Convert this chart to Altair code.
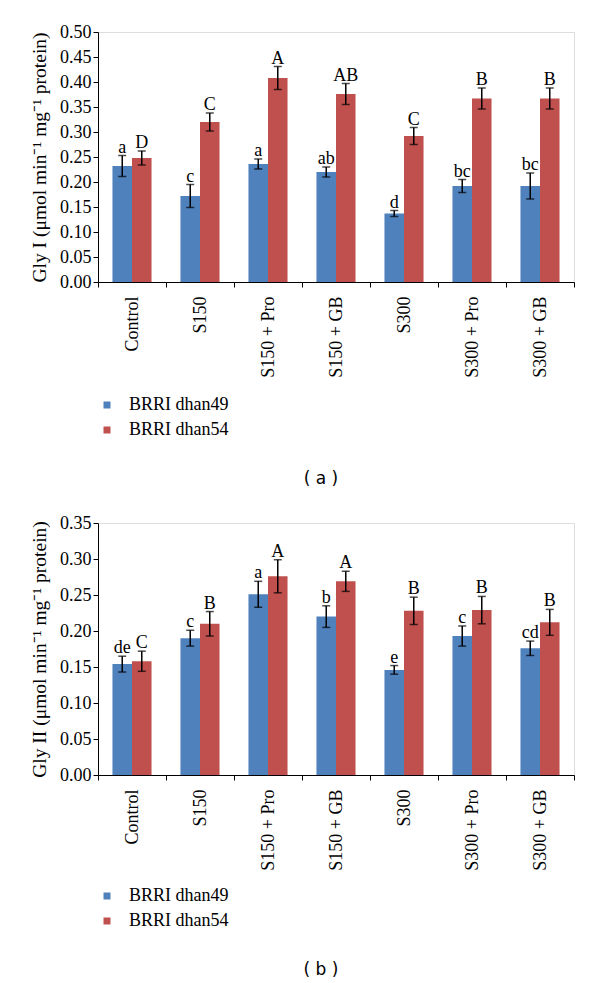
import altair as alt
import pandas as pd

categories = ["Control", "S150", "S150 + Pro", "S150 + GB", "S300", "S300 + Pro", "S300 + GB"]
series = ["BRRI dhan49", "BRRI dhan54"]
colors = ["#4F81BD", "#C0504D"]

# Panel (a) Gly I
gly1_49 = [0.232, 0.172, 0.236, 0.220, 0.137, 0.192, 0.192]
gly1_49_err = [0.021, 0.023, 0.010, 0.010, 0.006, 0.013, 0.026]
gly1_49_lbl = ["a", "c", "a", "ab", "d", "bc", "bc"]
gly1_54 = [0.248, 0.320, 0.408, 0.376, 0.292, 0.367, 0.367]
gly1_54_err = [0.014, 0.018, 0.023, 0.021, 0.017, 0.021, 0.021]
gly1_54_lbl = ["D", "C", "A", "AB", "C", "B", "B"]

# Panel (b) Gly II
gly2_49 = [0.154, 0.190, 0.251, 0.220, 0.146, 0.193, 0.176]
gly2_49_err = [0.011, 0.011, 0.018, 0.015, 0.006, 0.014, 0.010]
gly2_49_lbl = ["de", "c", "a", "b", "e", "c", "cd"]
gly2_54 = [0.158, 0.210, 0.276, 0.269, 0.228, 0.229, 0.212]
gly2_54_err = [0.014, 0.017, 0.023, 0.014, 0.019, 0.019, 0.018]
gly2_54_lbl = ["C", "B", "A", "A", "B", "B", "B"]

y_ticks_a = [0.00, 0.05, 0.10, 0.15, 0.20, 0.25, 0.30, 0.35, 0.40, 0.45, 0.50]
y_ticks_b = [0.00, 0.05, 0.10, 0.15, 0.20, 0.25, 0.30, 0.35]

FONT = "Liberation Serif"


def make_df(v1, e1, l1, v2, e2, l2):
    rows = []
    for s, vals, errs, lbls in [(series[0], v1, e1, l1), (series[1], v2, e2, l2)]:
        for c, v, e, l in zip(categories, vals, errs, lbls):
            rows.append({"cat": c, "series": s, "value": v, "lo": v - e, "hi": v + e, "label": l})
    return pd.DataFrame(rows)


def panel(df, ytitle, ticks, caption, height):
    ymax = ticks[-1]
    x = alt.X("cat:N", sort=categories,
              scale=alt.Scale(paddingInner=0, paddingOuter=0),
              axis=alt.Axis(title=None, labelAngle=-90, tickBand="extent", labelFont=FONT,
                            labelFontSize=18, labelColor="black", labelPadding=9, tickSize=5,
                            tickColor="black", domainColor="black", labelBaseline="middle",
                            labelAlign="right"))
    xo = alt.XOffset("series:N", sort=series, scale=alt.Scale(paddingOuter=0.74, paddingInner=0))
    yscale = alt.Scale(domain=[0, ymax], nice=False, zero=True)
    yaxis = alt.Axis(title=ytitle, values=ticks, format=".2f", grid=False,
                     labelOverlap=False, tickCount=len(ticks),
                     labelFont=FONT, labelFontSize=18, labelColor="black",
                     titleFont=FONT, titleFontSize=19.5, titleFontWeight="normal",
                     titleColor="black", titlePadding=10, tickSize=5,
                     tickColor="black", domainColor="black")
    bars = alt.Chart(df).mark_bar().encode(
        x=x, xOffset=xo,
        y=alt.Y("value:Q", scale=yscale, axis=yaxis),
        color=alt.Color("series:N", sort=series, scale=alt.Scale(domain=series, range=colors),
                        legend=alt.Legend(title=None, orient="none", legendX=0, legendY=364,
                                          symbolType="square", symbolSize=49, symbolStrokeWidth=0,
                                          labelFont=FONT, labelFontSize=18, labelColor="black",
                                          labelOffset=13, rowPadding=7)),
    )
    rules = alt.Chart(df).mark_rule(color="black", strokeWidth=1.5).encode(
        x=x, xOffset=xo, y=alt.Y("lo:Q", scale=yscale, axis=yaxis), y2="hi:Q")
    cap_lo = alt.Chart(df).mark_tick(color="black", size=8, thickness=1.5, orient="horizontal").encode(
        x=x, xOffset=xo, y=alt.Y("lo:Q", scale=yscale, axis=yaxis))
    cap_hi = alt.Chart(df).mark_tick(color="black", size=8, thickness=1.5, orient="horizontal").encode(
        x=x, xOffset=xo, y=alt.Y("hi:Q", scale=yscale, axis=yaxis))
    text = alt.Chart(df).mark_text(font=FONT, fontSize=18, color="black", baseline="alphabetic",
                                   dy=-3).encode(
        x=x, xOffset=xo, y=alt.Y("hi:Q", scale=yscale, axis=yaxis), text="label:N")
    return alt.layer(bars, rules, cap_lo, cap_hi, text).properties(
        width=476, height=height,
        title=alt.TitleParams(caption, orient="bottom", font="DejaVu Sans", fontSize=17,
                              fontWeight="normal", color="black", offset=32, dx=-15))


df1 = make_df(gly1_49, gly1_49_err, gly1_49_lbl, gly1_54, gly1_54_err, gly1_54_lbl)
df2 = make_df(gly2_49, gly2_49_err, gly2_49_lbl, gly2_54, gly2_54_err, gly2_54_lbl)

p1 = panel(df1, "Gly I (μmol min⁻¹ mg⁻¹ protein)", y_ticks_a, "( a )", 250)
p2 = panel(df2, "Gly II (μmol min⁻¹ mg⁻¹ protein)", y_ticks_b, "( b )", 252)

chart = alt.vconcat(p1, p2, spacing=25).resolve_legend(color="independent").properties(
    padding={"left": 20, "top": 14, "right": 5, "bottom": 5}
).configure_view(stroke=None).configure(background="white")

chart.save("out.html", embed_options={"renderer": "svg", "actions": False})
